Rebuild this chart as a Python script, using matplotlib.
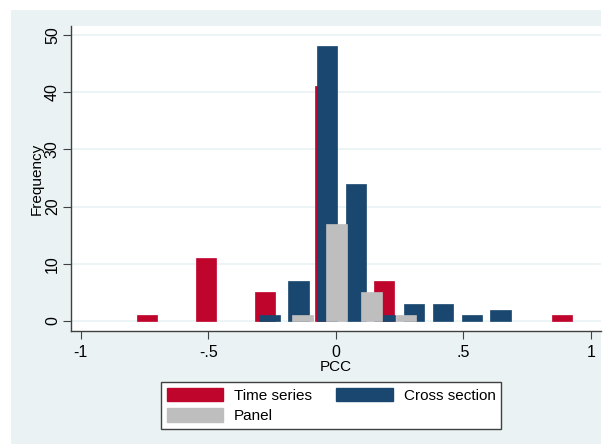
import matplotlib
matplotlib.use("Agg")
import matplotlib.pyplot as plt
from matplotlib.patches import Rectangle, Patch

plt.rcParams["font.family"] = ["Liberation Sans", "DejaVu Sans"]

# bin centres and counts
ts_centres = [-0.741, -0.509, -0.277, -0.043, 0.189, 0.887]
ts_counts = [1, 11, 5, 41, 7, 1]

cs_centres = [-0.260, -0.147, -0.035, 0.080, 0.192, 0.307, 0.420, 0.533, 0.645]
cs_counts = [1, 7, 48, 24, 1, 3, 3, 1, 2]

panel_centres = [-0.131, 0.003, 0.140, 0.274]
panel_counts = [1, 17, 5, 1]

x_ticks = [-1, -0.5, 0, 0.5, 1]
x_ticklabels = ["-1", "-.5", "0", ".5", "1"]
y_ticks = [0, 10, 20, 30, 40, 50]

RED = "#C0052D"
NAVY = "#1A476F"
GRAY = "#BEBEBE"
BG = "#EAF2F3"
BAR_W = 0.08

fig = plt.figure(figsize=(6.03, 4.45), dpi=100, facecolor="white")
# Stata-like outer background, white strip on top/left
fig.patches.append(Rectangle((11 / 603, 1 / 445), 590 / 603, 434 / 445,
                             transform=fig.transFigure, facecolor=BG,
                             edgecolor="none", zorder=-10))

ax = fig.add_axes([71 / 603, 1 - 331 / 445, 530 / 603, 305 / 445])
ax.set_zorder(1)
ax.set_facecolor("white")

ax.bar(ts_centres, ts_counts, width=BAR_W, color=RED, edgecolor=RED, linewidth=0.5, zorder=2)
ax.bar(cs_centres, cs_counts, width=BAR_W, color=NAVY, edgecolor=NAVY, linewidth=0.5, zorder=3)
ax.bar(panel_centres, panel_counts, width=BAR_W, color=GRAY, edgecolor=GRAY, linewidth=0.5, zorder=4)

ax.set_xlim(-1.038, 1.039)
ax.set_ylim(-1.75, 51.57)

ax.set_yticks(y_ticks)
ax.set_yticklabels([str(v) for v in y_ticks], rotation=90, va="center", fontsize=11.5)
ax.set_xticks(x_ticks)
ax.set_xticklabels(x_ticklabels, fontsize=11.5)
ax.tick_params(axis="both", length=6, width=0.8, color="#404040")
ax.tick_params(axis="y", pad=2)
ax.tick_params(axis="x", pad=4)

for v in y_ticks:
    ax.axhline(v, color=BG, linewidth=1.2, zorder=1)

for s in ["top", "right"]:
    ax.spines[s].set_visible(False)
for s in ["left", "bottom"]:
    ax.spines[s].set_color("#404040")
    ax.spines[s].set_linewidth(1.0)

ax.set_xlabel("PCC", fontsize=11, labelpad=0)
ax.set_ylabel("Frequency", fontsize=11, labelpad=1)

handles = [Patch(facecolor=RED, edgecolor=RED, label="Time series"),
           Patch(facecolor=GRAY, edgecolor=GRAY, label="Panel"),
           Patch(facecolor=NAVY, edgecolor=NAVY, label="Cross section")]
leg = fig.legend(handles=handles, ncol=2, loc="center",
                 bbox_to_anchor=(331 / 603, 1 - 405.5 / 445),
                 fontsize=11, frameon=True, fancybox=False, framealpha=1,
                 handlelength=3.7, handleheight=1.0, handletextpad=0.7,
                 columnspacing=1.6, labelspacing=0.35, borderpad=0.4)
leg.get_frame().set_edgecolor("#404040")
leg.get_frame().set_linewidth(1.0)

fig.savefig("out.png", dpi=100, facecolor="white")
